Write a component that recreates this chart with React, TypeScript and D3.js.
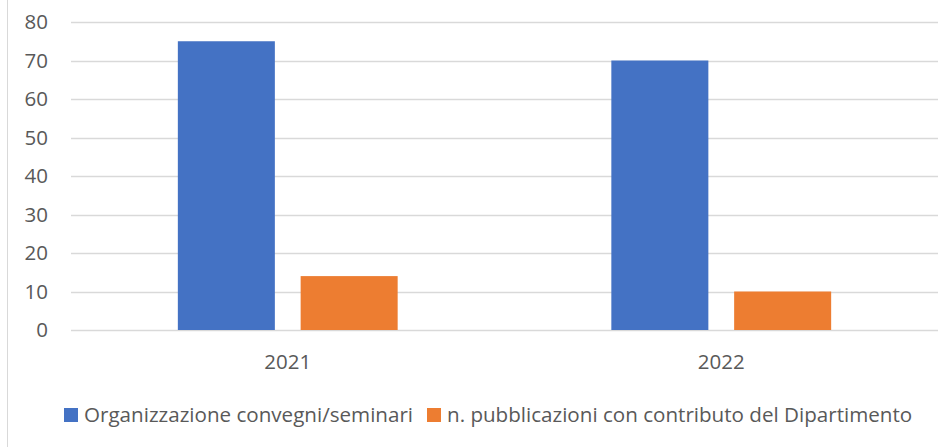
import React, { useEffect, useRef } from "react";
import * as d3 from "d3";

const years = ["2021", "2022"];
const seriesNames = [
  "Organizzazione convegni/seminari",
  "n. pubblicazioni con contributo del Dipartimento",
];
const convegni = [75, 70];
const pubblicazioni = [14, 10];
const yTicks = [0, 10, 20, 30, 40, 50, 60, 70, 80];
const colors = ["#4472C4", "#ED7D31"];

export default function App() {
  const ref = useRef<SVGSVGElement>(null);

  useEffect(() => {
    const svgWidth = 950;
    const svgHeight = 447;
    const left = 71;
    const right = 938;
    const top = 22;
    const bottom = 330;
    const font = "'Open Sans', sans-serif";
    const textColor = "#595959";

    const svg = d3.select(ref.current);
    svg.selectAll("*").remove();
    svg.attr("width", svgWidth).attr("height", svgHeight);

    // chart frame (only left edge visible)
    svg
      .append("line")
      .attr("x1", 7.5)
      .attr("x2", 7.5)
      .attr("y1", 0)
      .attr("y2", svgHeight)
      .attr("stroke", "#d9d9d9")
      .attr("stroke-width", 1);

    const y = d3.scaleLinear().domain([0, 80]).range([bottom, top]);
    const x0 = d3.scaleBand().domain(years).range([left, right]);
    const x1 = d3
      .scaleBand()
      .domain(seriesNames)
      .range([0, x0.bandwidth()])
      .paddingInner(0.21)
      .paddingOuter(0.87);

    // gridlines
    svg
      .append("g")
      .selectAll("line")
      .data(yTicks)
      .enter()
      .append("line")
      .attr("x1", left)
      .attr("x2", right)
      .attr("y1", (d) => Math.round(y(d)) + 0.5)
      .attr("y2", (d) => Math.round(y(d)) + 0.5)
      .attr("stroke", "#d9d9d9")
      .attr("stroke-width", 1.3);

    // y labels
    svg
      .append("g")
      .selectAll("text")
      .data(yTicks)
      .enter()
      .append("text")
      .attr("x", 48)
      .attr("y", (d) => y(d))
      .attr("dy", "0.36em")
      .attr("text-anchor", "end")
      .attr("font-family", font)
      .attr("font-size", 20.5)
      .attr("fill", textColor)
      .text((d) => d);

    // bars
    const values = [convegni, pubblicazioni];
    const groups = svg
      .append("g")
      .selectAll("g")
      .data(years)
      .enter()
      .append("g")
      .attr("transform", (d) => `translate(${x0(d)},0)`);

    groups
      .selectAll("rect")
      .data((d, i) => seriesNames.map((s, k) => ({ s, v: values[k][i], k })))
      .enter()
      .append("rect")
      .attr("x", (d) => x1(d.s)!)
      .attr("width", x1.bandwidth())
      .attr("y", (d) => y(d.v))
      .attr("height", (d) => y(0) - y(d.v))
      .attr("fill", (d) => colors[d.k]);

    // x labels
    svg
      .append("g")
      .selectAll("text")
      .data(years)
      .enter()
      .append("text")
      .attr("x", (d) => x0(d)! + x0.bandwidth() / 2)
      .attr("y", 369)
      .attr("text-anchor", "middle")
      .attr("font-family", font)
      .attr("font-size", 20.5)
      .attr("fill", textColor)
      .text((d) => d);

    // legend
    const legendItems = [
      { name: seriesNames[0], sx: 64, tx: 84 },
      { name: seriesNames[1], sx: 427, tx: 447 },
    ];
    const legend = svg.append("g");
    legend
      .selectAll("rect")
      .data(legendItems)
      .enter()
      .append("rect")
      .attr("x", (d) => d.sx)
      .attr("y", 408)
      .attr("width", 14)
      .attr("height", 14)
      .attr("fill", (d, i) => colors[i]);
    legend
      .selectAll("text")
      .data(legendItems)
      .enter()
      .append("text")
      .attr("x", (d) => d.tx)
      .attr("y", 422)
      .attr("font-family", font)
      .attr("font-size", 20.6)
      .attr("fill", textColor)
      .text((d) => d.name);
  }, []);

  return (
    <svg
      ref={ref}
      style={{ position: "absolute", left: 0, top: 0, display: "block", background: "#fff" }}
    />
  );
}
